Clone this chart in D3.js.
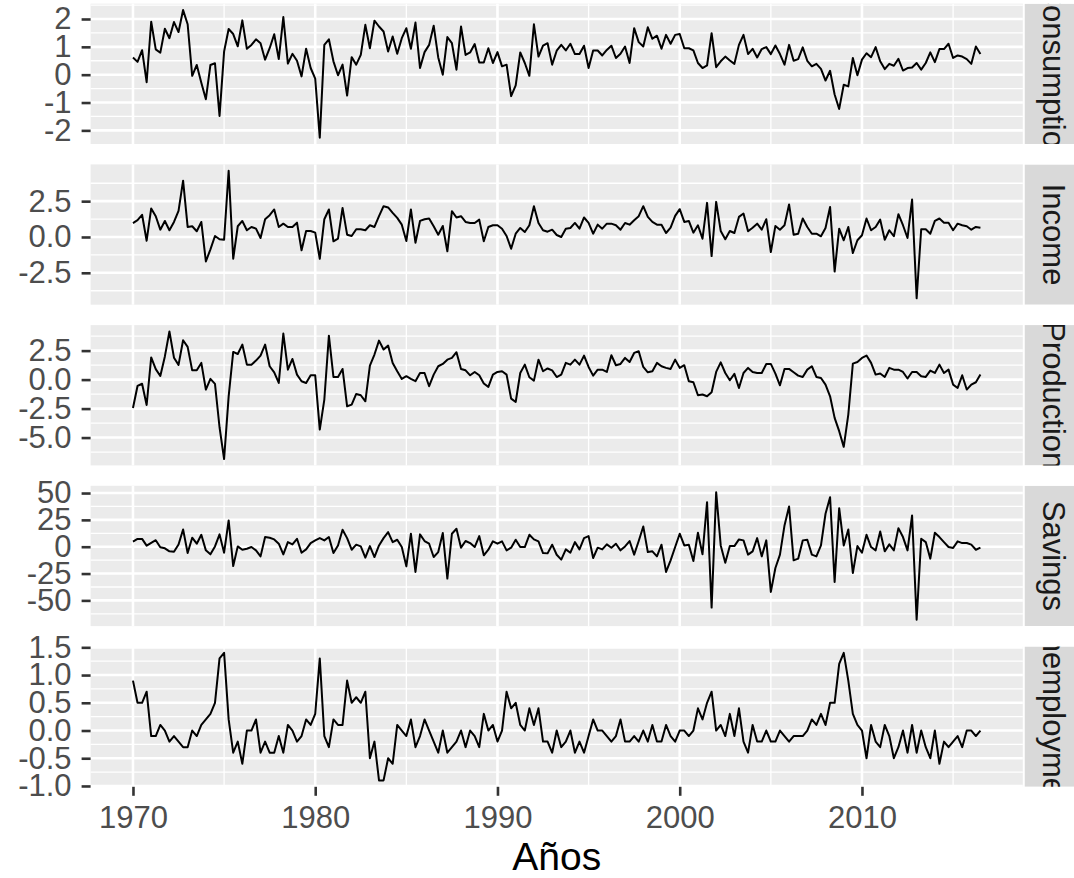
<!DOCTYPE html>
<html><head><meta charset="utf-8">
<script src="https://cdn.jsdelivr.net/npm/d3@7"></script>
<style>body{margin:0;background:#fff} svg{display:block}</style>
</head><body><svg id="chart" width="1074" height="878"></svg>
<script>
// Quarterly data, 1970 Q1 .. 2016 Q3
const startYear = 1970;
const consumption = [0.62,0.46,0.88,-0.27,1.90,0.91,0.79,1.65,1.31,1.89,1.53,2.32,1.81,-0.04,0.35,-0.29,-0.88,0.35,0.41,-1.48,0.83,1.64,1.46,1.02,1.95,0.93,1.07,1.27,1.13,0.54,0.95,1.45,0.56,2.07,0.40,0.75,0.50,-0.06,0.93,0.24,-0.14,-2.26,1.07,1.27,0.48,-0.02,0.36,-0.75,0.63,0.36,0.71,1.79,0.95,1.94,1.73,1.55,0.83,1.37,0.75,1.31,1.67,0.93,1.87,0.24,0.81,1.07,1.76,0.62,0.00,1.35,1.13,0.18,1.73,0.71,0.80,1.10,0.44,0.44,0.95,0.42,0.81,0.30,0.36,-0.77,-0.38,0.80,0.42,-0.04,1.81,0.65,1.04,1.13,0.36,0.86,1.07,0.87,1.11,0.74,0.74,1.04,0.24,0.87,0.87,0.69,0.89,1.04,0.60,0.75,1.01,0.42,1.67,1.17,1.01,1.70,1.29,1.40,0.93,1.43,1.11,1.43,1.46,0.95,0.95,0.87,0.42,0.24,0.33,1.49,0.27,0.48,0.65,0.51,0.39,1.07,1.43,0.74,0.93,0.62,0.92,0.99,0.74,1.05,0.74,0.36,1.07,0.50,0.56,0.98,0.50,0.30,0.39,0.21,-0.21,0.14,-0.71,-1.23,-0.36,-0.42,0.60,-0.02,0.54,0.77,0.63,0.99,0.48,0.20,0.39,0.32,0.57,0.15,0.24,0.26,0.42,0.18,0.42,0.80,0.45,0.92,0.92,1.11,0.60,0.69,0.65,0.56,0.39,1.01,0.74];
const income = [0.97,1.17,1.55,-0.26,1.99,1.45,0.51,1.12,0.47,1.05,1.82,3.93,0.70,0.75,0.40,1.05,-1.71,-0.86,0.07,-0.16,-0.19,4.62,-1.52,0.75,1.12,0.47,0.70,0.58,-0.07,1.24,1.52,1.92,0.70,0.93,0.70,0.70,1.00,-0.93,0.42,0.42,0.30,-1.52,1.24,1.92,-0.30,-0.12,2.03,0.16,0.07,0.54,0.54,0.47,0.82,0.70,1.45,2.15,2.06,1.68,1.33,0.86,-0.28,1.92,-0.40,1.12,1.24,1.29,0.75,0.16,0.77,-1.00,1.80,1.36,1.45,1.05,0.98,0.98,1.21,-0.30,0.70,0.82,0.82,0.58,0.07,-0.82,0.23,0.63,0.35,0.82,2.15,0.98,0.47,0.37,0.51,0.14,0.00,0.58,0.63,0.98,0.58,1.36,0.98,0.23,0.86,0.58,0.93,0.93,0.82,0.51,0.98,0.86,1.17,1.45,2.15,1.40,1.05,0.86,0.86,0.28,0.65,1.47,1.94,1.05,1.12,0.30,0.82,-0.12,2.38,-1.33,2.45,0.42,-0.16,0.42,0.28,1.40,1.64,0.40,0.65,0.93,0.51,1.24,-1.05,0.77,0.51,0.82,2.27,0.16,0.23,1.29,0.70,0.23,0.23,0.05,0.63,2.10,-2.41,0.58,-0.23,0.70,-1.12,-0.23,0.12,1.29,0.47,0.70,1.21,-0.19,0.47,0.05,1.59,0.82,-0.07,2.62,-4.28,0.54,0.54,0.23,1.12,1.29,1.00,1.00,0.47,0.93,0.82,0.75,0.51,0.70,0.65];
const production = [-2.45,-0.55,-0.36,-2.19,1.91,0.90,0.31,2.00,4.15,1.89,1.27,3.39,2.82,0.80,0.80,1.44,-0.86,0.06,-0.37,-4.11,-6.85,-1.45,2.39,2.21,3.02,1.29,1.29,1.64,2.07,3.02,1.15,0.63,-0.29,3.97,0.86,1.78,0.43,-0.14,-0.29,0.37,0.37,-4.31,-1.72,3.79,0.23,0.23,0.92,-2.30,-2.16,-1.24,-1.35,-1.87,1.21,2.16,3.36,2.59,2.93,1.44,0.72,0.06,0.29,0.06,-0.14,0.57,0.57,-0.57,0.43,1.15,1.35,1.72,1.87,2.36,0.92,0.80,0.37,0.66,0.37,-0.34,-0.63,0.43,0.66,0.72,0.43,-1.64,-1.93,0.57,1.29,0.20,-0.09,1.72,0.72,0.96,0.79,0.22,0.43,1.44,1.29,1.72,1.29,2.07,1.09,0.34,0.86,0.86,0.66,2.10,1.24,1.35,1.87,1.52,2.30,2.44,1.09,0.63,0.72,1.44,1.15,1.01,0.92,1.72,1.01,1.24,-0.14,-0.23,-1.35,-1.29,-1.44,-1.09,0.66,1.49,0.57,-0.06,0.49,-0.72,0.57,1.01,0.66,0.57,0.57,1.35,1.35,0.52,-0.49,0.92,0.92,0.63,0.34,0.23,0.86,1.15,0.23,0.14,-0.43,-1.44,-3.30,-4.45,-5.80,-3.02,1.38,1.52,1.87,2.07,1.44,0.43,0.52,0.23,1.01,0.86,0.86,0.66,0.09,0.66,0.66,0.29,0.23,0.78,0.57,1.29,0.57,0.86,-0.43,-0.72,0.37,-0.86,-0.43,-0.23,0.43];
const savings = [4.81,7.29,7.29,0.99,3.66,6.05,-0.45,-1.51,-4.30,-4.69,2.0,16.1,-5.9,8.4,2.8,11.1,-3.4,-7.1,0.3,11.5,-5.6,24.5,-18.0,0.3,-2.8,-1.9,-0.3,-3.4,-9.0,9.0,8.4,6.8,2.8,-7.1,4.3,2.2,7.4,-5.6,-2.5,3.4,5.9,8.0,5.9,9.0,-5.9,1.2,15.8,8.0,-2.8,1.9,0.3,-10.2,0.6,-9.6,1.2,8.0,13.6,4.3,6.5,-0.3,-18.3,12.1,-23.5,11.5,5.3,2.8,-9.6,-5.0,12.7,-29.7,12.1,16.7,-0.9,5.3,3.4,-0.3,9.9,-8.0,-2.8,5.0,2.8,5.0,-3.4,-0.9,6.5,-0.3,-0.3,11.1,6.8,5.0,-5.9,-6.2,1.9,-7.5,-12.0,-2.5,-5.6,4.3,-2.5,8.0,9.9,-10.5,-0.9,-2.5,2.2,-0.9,2.8,-3.4,0.3,5.3,-7.4,5.3,18.9,-5.0,-4.3,-9.0,1.9,-23.5,-12.7,-0.3,12.1,1.2,1.9,-13.3,13.0,-7.1,41.5,-56.7,50.8,1.2,-14.9,0.6,0.6,6.8,5.9,-7.4,-4.3,8.0,-9.0,5.9,-42.1,-19.8,-7.4,19.8,37.5,-12.7,-11.1,5.9,6.5,-7.4,-9.0,1.2,30.7,46.1,-32.8,35.9,1.2,16.1,-24.5,0.6,-5.6,11.1,-0.3,-3.4,14.2,-4.3,2.2,-3.4,17.3,9.0,-3.4,29.1,-68.0,7.4,4.3,-11.1,13.0,9.0,4.3,-0.3,-1.2,5.0,3.4,3.4,1.9,-2.8,-0.9];
const unemployment = [0.9,0.5,0.5,0.7,-0.1,-0.1,0.1,0.0,-0.2,-0.1,-0.2,-0.3,-0.3,0.0,-0.1,0.1,0.2,0.3,0.5,1.3,1.4,0.2,-0.4,-0.2,-0.6,0.0,0.0,0.2,-0.4,-0.2,-0.4,-0.4,-0.1,-0.4,0.1,0.0,-0.2,-0.1,0.2,0.1,0.3,1.3,-0.1,-0.3,0.2,0.1,0.1,0.9,0.5,0.6,0.5,0.7,-0.5,-0.2,-0.9,-0.9,-0.5,-0.6,0.1,0.0,-0.1,0.2,-0.3,-0.1,0.2,0.0,-0.2,-0.4,0.0,-0.4,-0.3,-0.2,0.0,-0.3,0.0,-0.1,-0.3,0.3,0.0,0.1,-0.2,0.0,0.7,0.4,0.5,0.1,0.0,0.4,0.1,0.4,-0.2,-0.2,-0.4,0.0,-0.3,-0.2,0.0,-0.4,-0.2,-0.4,-0.1,0.2,0.0,0.0,-0.1,-0.2,-0.1,0.2,-0.2,-0.2,-0.1,-0.2,0.0,-0.2,0.1,-0.2,-0.2,0.1,-0.1,-0.2,0.0,0.0,-0.1,0.0,0.4,0.2,0.5,0.7,0.0,0.1,-0.1,0.3,-0.1,0.4,-0.2,-0.4,0.1,-0.2,-0.2,0.0,-0.2,-0.2,0.0,-0.1,-0.2,-0.1,-0.1,-0.1,0.0,0.2,0.1,0.3,0.1,0.5,0.5,1.2,1.4,0.9,0.3,0.1,0.0,-0.5,0.1,-0.2,-0.3,0.1,-0.1,-0.5,-0.3,0.0,-0.4,0.1,-0.4,0.0,-0.3,-0.5,0.0,-0.6,-0.2,-0.3,-0.2,-0.1,-0.3,0.0,0.0,-0.1,0.0];

const seriesNames = ["Consumption", "Income", "Production", "Savings", "Unemployment"];
const seriesValues = [consumption, income, production, savings, unemployment];
const yTickValues = [[-2,-1,0,1,2],[-2.5,0,2.5],[-5,-2.5,0,2.5],[-50,-25,0,25,50],[-1,-0.5,0,0.5,1,1.5]];
const yTickLabels = [["-2","-1","0","1","2"],["-2.5","0.0","2.5"],["-5.0","-2.5","0.0","2.5"],["-50","-25","0","25","50"],["-1.0","-0.5","0.0","0.5","1.0","1.5"]];
const xTickValues = [1970, 1980, 1990, 2000, 2010];
const xTickLabels = ["1970", "1980", "1990", "2000", "2010"];
const xTitle = "Años";

const FONT = "'Liberation Sans', Arial, sans-serif";
const svg = d3.select("#chart");
const panelLeft = 90.6, panelRight = 1022.8;
const panelTop0 = 3.7, panelH = 140.3, panelStep = 160.7;
const stripX = 1024.5, stripW = 60;

const years = consumption.map((_, i) => startYear + i / 4);
const xExt = d3.extent(years);
const xPad = (xExt[1] - xExt[0]) * 0.05;
const x = d3.scaleLinear().domain([xExt[0] - xPad, xExt[1] + xPad]).range([panelLeft, panelRight]);
const xMinor = [];
for (let k = 0; k < xTickValues.length; k++) {
  const step = xTickValues[1] - xTickValues[0];
  [xTickValues[k] - step / 2, xTickValues[k] + step / 2].forEach(v => {
    const [a, b] = x.domain();
    if (v > a && v < b && !xMinor.includes(v)) xMinor.push(v);
  });
}

const defs = svg.append("defs");

seriesValues.forEach((vals, p) => {
  const top = panelTop0 + p * panelStep;
  const ext = d3.extent(vals);
  const pad = (ext[1] - ext[0]) * 0.05;
  const y = d3.scaleLinear().domain([ext[0] - pad, ext[1] + pad]).range([top + panelH, top]);
  const g = svg.append("g");
  g.append("rect").attr("x", panelLeft).attr("y", top).attr("width", panelRight - panelLeft).attr("height", panelH).attr("fill", "#EBEBEB");
  // minor horizontal
  const tv = yTickValues[p];
  const st = tv[1] - tv[0];
  const yMinor = [];
  tv.forEach(v => [v - st / 2, v + st / 2].forEach(m => {
    const [a, b] = y.domain();
    if (m > a && m < b && !yMinor.includes(m)) yMinor.push(m);
  }));
  g.selectAll(".hmin").data(yMinor).join("line")
    .attr("x1", panelLeft).attr("x2", panelRight).attr("y1", d => y(d)).attr("y2", d => y(d))
    .attr("stroke", "#fff").attr("stroke-width", 1.3);
  g.selectAll(".vmin").data(xMinor).join("line")
    .attr("y1", top).attr("y2", top + panelH).attr("x1", d => x(d)).attr("x2", d => x(d))
    .attr("stroke", "#fff").attr("stroke-width", 1.3);
  g.selectAll(".hmaj").data(tv).join("line")
    .attr("x1", panelLeft).attr("x2", panelRight).attr("y1", d => y(d)).attr("y2", d => y(d))
    .attr("stroke", "#fff").attr("stroke-width", 2.6);
  g.selectAll(".vmaj").data(xTickValues).join("line")
    .attr("y1", top).attr("y2", top + panelH).attr("x1", d => x(d)).attr("x2", d => x(d))
    .attr("stroke", "#fff").attr("stroke-width", 2.6);
  // series line
  const line = d3.line().x((d, i) => x(years[i])).y(d => y(d));
  g.append("path").datum(vals).attr("d", line).attr("fill", "none").attr("stroke", "#000").attr("stroke-width", 2).attr("stroke-linejoin", "round");
  // y axis
  const ax = d3.axisLeft(y).tickValues(tv).tickFormat((d, i) => yTickLabels[p][i]).tickSize(9).tickPadding(10);
  const ag = svg.append("g").attr("transform", `translate(${panelLeft},0)`).call(ax);
  ag.select(".domain").remove();
  ag.selectAll(".tick line").attr("stroke", "#333333").attr("stroke-width", 2.6);
  ag.selectAll(".tick text").attr("fill", "#4D4D4D").style("font-size", "31px").style("font-family", FONT);
  // strip
  const cid = "clip" + p;
  defs.append("clipPath").attr("id", cid).append("rect").attr("x", stripX).attr("y", top).attr("width", stripW).attr("height", panelH);
  const sg = svg.append("g").attr("clip-path", `url(#${cid})`);
  sg.append("rect").attr("x", stripX).attr("y", top).attr("width", stripW).attr("height", panelH).attr("fill", "#D9D9D9");
  sg.append("text").attr("transform", `translate(${stripX + 18.8},${top + panelH / 2}) rotate(90)`)
    .attr("text-anchor", "middle").attr("fill", "#1A1A1A").style("font-size", "31px").style("font-family", FONT)
    .text(seriesNames[p]);
});

// x axis
const bottom = panelTop0 + 4 * panelStep + panelH;
const xa = d3.axisBottom(x).tickValues(xTickValues).tickFormat((d, i) => xTickLabels[i]).tickSize(9).tickPadding(10);
const xg = svg.append("g").attr("transform", `translate(0,${bottom})`).call(xa);
xg.select(".domain").remove();
xg.selectAll(".tick line").attr("stroke", "#333333").attr("stroke-width", 2.6);
xg.selectAll(".tick text").attr("fill", "#4D4D4D").style("font-size", "31px").style("font-family", FONT);

svg.append("text").attr("x", (panelLeft + panelRight) / 2).attr("y", 870).attr("text-anchor", "middle")
  .attr("fill", "#000").style("font-size", "39px").style("font-family", FONT).text(xTitle);
</script></body></html>
